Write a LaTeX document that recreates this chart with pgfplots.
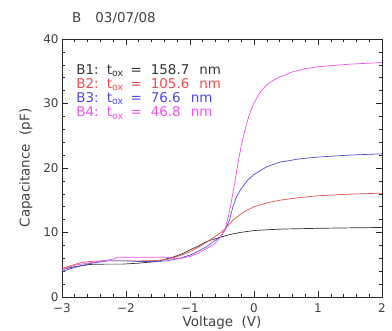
\documentclass[border=0pt]{standalone}
\usepackage{fontspec}
\setmainfont{DejaVu Sans}
\usepackage{pgfplots}
\pgfplotsset{compat=1.18}
\definecolor{cB}{HTML}{333333}
\definecolor{cR}{HTML}{E8504A}
\definecolor{cBl}{HTML}{4A4AE0}
\definecolor{cM}{HTML}{F050F0}
\newcommand{\entry}[2]{#1:\hspace{8bp}t\textsubscript{ox}\hspace{7bp}=\hspace{9bp}#2\hspace{10bp}nm}
\begin{document}
\begin{tikzpicture}[x=1bp,y=1bp]
\path[use as bounding box] (-62,-34) rectangle (330,297);
\begin{axis}[
  at={(0,0)}, anchor=south west,
  scale only axis, width=320bp, height=258bp,
  xmin=-3, xmax=2, ymin=0, ymax=40,
  xtick={-3,-2,-1,0,1,2},
  xticklabels={−3,−2,−1,0,1,2},
  ytick={0,10,20,30,40},
  yticklabels={0,10,20,30,40},
  minor x tick num=4, minor y tick num=4,
  tick align=inside,
  major tick length=6bp, minor tick length=3bp,
  tick style={black!85, line width=0.6pt},
  axis line style={black!85, line width=0.8pt},
  ticklabel style={font=\fontsize{12}{14}\selectfont, text=black!75},
  xticklabel style={yshift=-3bp},
  xlabel={Voltage\ \ (V)}, ylabel={Capacitance\ \ (pF)},
  label style={font=\fontsize{13.5}{15}\selectfont, text=black!75},
  xlabel style={yshift=3bp},
  ylabel style={yshift=4bp},
  legend style={draw=none, fill=none, at={(0.018,0.905)}, anchor=north west,
    font=\fontsize{13.5}{15}\selectfont, row sep=1bp, inner sep=0bp,
    nodes={inner sep=0.5bp, text height=9.8bp, text depth=2.5bp}},
  legend cell align=left,
  legend image code/.code={\draw[#1, line width=1.3pt, opacity=0.35] (0bp,0bp) -- (1.5bp,0bp); \path (7bp,0bp);},
  every axis plot/.append style={line width=0.7pt},
  clip=true,
]
\addplot[cB] coordinates {
(-3.05,4.2) (-2.98,4.3) (-2.8,4.7) (-2.56,5.05) (-2.3,5.1) (-2.05,5.1) (-1.8,5.25) (-1.52,5.5)
(-1.26,6.2) (-1.1,6.8) (-1.0,7.3) (-0.87,7.9) (-0.74,8.6) (-0.6,9.05) (-0.48,9.4) (-0.35,9.75)
(-0.22,10.0) (0,10.3) (0.25,10.45) (0.5,10.55) (1.0,10.65) (1.5,10.72) (2.0,10.78)
};
\addlegendentry[text=cB]{\entry{B1}{158.7}}
\addplot[cR] coordinates {
(-3.05,4.4) (-2.98,4.5) (-2.8,5.05) (-2.67,5.4) (-2.5,5.55) (-2.3,5.6) (-2.0,5.6) (-1.78,5.6)
(-1.55,5.65) (-1.36,5.8) (-1.16,6.4) (-1.0,7.0) (-0.87,7.7) (-0.74,8.5) (-0.62,9.3) (-0.53,9.9)
(-0.45,10.6) (-0.33,11.9) (-0.2,12.9) (-0.1,13.5) (0,14.0) (0.2,14.6) (0.4,15.0) (0.7,15.4)
(1.0,15.7) (1.5,15.95) (2.0,16.1)
};
\addlegendentry[text=cR]{\entry{B2}{105.6}}
\addplot[cBl] coordinates {
(-3.05,3.9) (-2.98,4.0) (-2.8,4.6) (-2.56,5.2) (-2.3,5.6) (-2.0,5.6) (-1.78,5.5) (-1.55,5.5)
(-1.36,5.6) (-1.16,6.0) (-1.0,6.5) (-0.87,7.1) (-0.74,7.8) (-0.62,8.7) (-0.53,9.3) (-0.45,10.4)
(-0.38,12.0) (-0.33,14.0) (-0.27,15.6) (-0.2,16.8) (-0.1,18.1) (0,19.0) (0.2,20.2) (0.4,20.9)
(0.7,21.4) (1.0,21.7) (1.5,22.0) (2.0,22.2)
};
\addlegendentry[text=cBl]{\entry{B3}{76.6}}
\addplot[cM] coordinates {
(-3.05,4.1) (-2.98,4.3) (-2.8,4.95) (-2.56,5.3) (-2.3,5.7) (-2.18,5.9) (-2.15,6.15) (-1.8,6.15)
(-1.36,6.15) (-1.25,6.0) (-1.16,5.95) (-1.0,6.3) (-0.87,6.8) (-0.74,7.5) (-0.62,8.2) (-0.53,9.2)
(-0.45,10.6) (-0.4,12.5) (-0.35,15.0) (-0.3,17.8) (-0.25,20.8) (-0.2,23.4) (-0.15,25.6)
(-0.1,27.4) (-0.05,28.9) (0,30.1) (0.1,31.8) (0.2,32.9) (0.3,33.6) (0.4,34.1) (0.6,34.9)
(0.8,35.4) (1.0,35.7) (1.5,36.1) (2.0,36.35)
};
\addlegendentry[text=cM]{\entry{B4}{46.8}}
\end{axis}
\node[anchor=base west, inner sep=0pt, font=\fontsize{13.5}{15}\selectfont, text=black!75] at (10,275) {B\hspace{14bp}03/07/08};
\end{tikzpicture}
\end{document}
